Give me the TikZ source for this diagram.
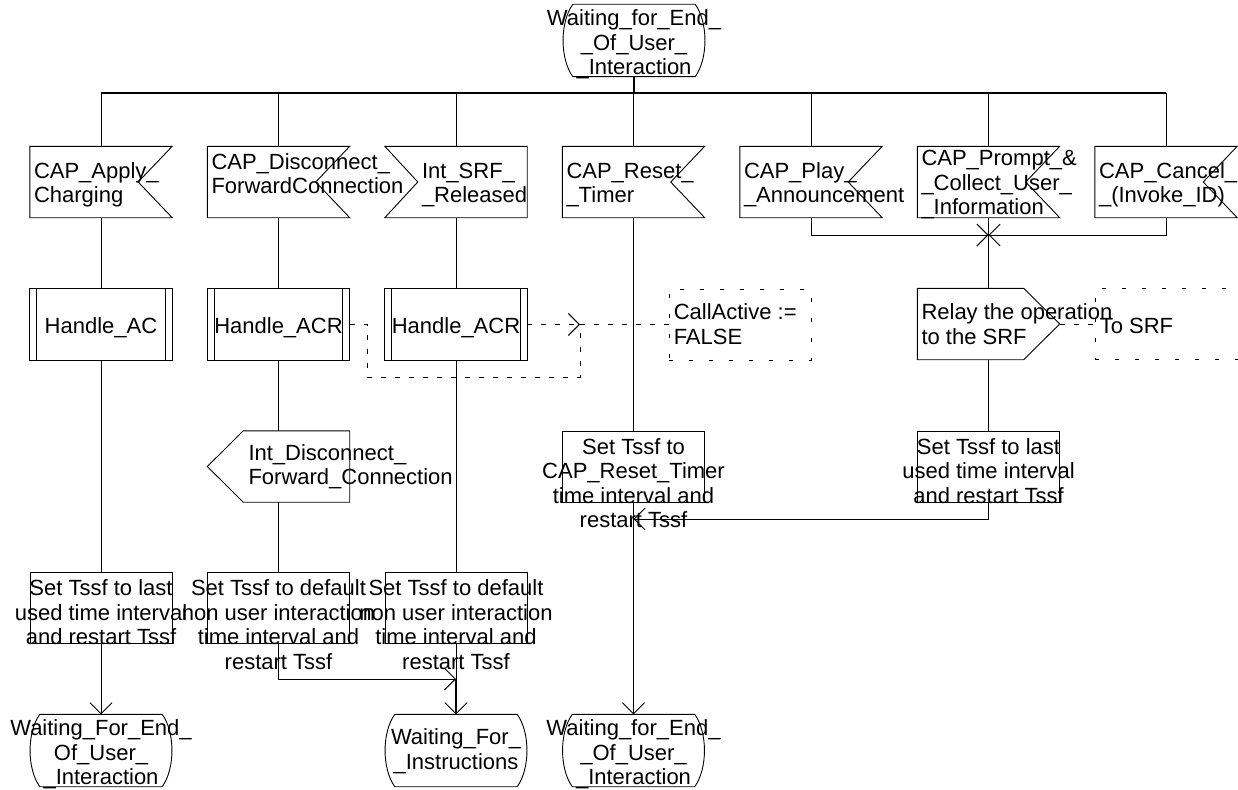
\documentclass[tikz,border=0pt]{standalone}
\usepackage{fontspec}
\setmainfont{Liberation Sans}
\usetikzlibrary{arrows.meta}
\newcommand{\txtl}[1]{\begin{tabular}{@{}l@{}}#1\end{tabular}}
\newcommand{\txtc}[1]{\begin{tabular}{@{}c@{}}#1\end{tabular}}
\newcommand{\sdlstate}[1]{\draw[sdlline] (#1.north west) -- (#1.north east)
  .. controls ([xshift=13pt,yshift=-18pt]#1.north east) and ([xshift=13pt,yshift=18pt]#1.south east) .. (#1.south east)
  -- (#1.south west)
  .. controls ([xshift=-13pt,yshift=18pt]#1.south west) and ([xshift=-13pt,yshift=-18pt]#1.north west) .. (#1.north west);}
\newcommand{\sdlinput}[1]{\draw[sdlline] (#1.north west) -- (#1.north east) -- ([xshift=-34pt]#1.east) -- (#1.south east) -- (#1.south west) -- cycle;}
\newcommand{\sdlinputl}[1]{\draw[sdlline] (#1.north west) -- (#1.north east) -- (#1.south east) -- (#1.south west) -- ([xshift=33pt]#1.west) -- cycle;}
\newcommand{\sdloutr}[1]{\draw[sdlline] (#1.north west) -- ([xshift=-36pt]#1.north east) -- (#1.east) -- ([xshift=-36pt]#1.south east) -- (#1.south west) -- cycle;}
\newcommand{\sdloutl}[1]{\draw[sdlline] ([xshift=36pt]#1.north west) -- (#1.north east) -- (#1.south east) -- ([xshift=36pt]#1.south west) -- (#1.west) -- cycle;}
\newcommand{\sdlproc}[1]{\draw[sdlline] (#1.north west) rectangle (#1.south east);
  \draw[sdlline] ([xshift=7pt]#1.north west) -- ([xshift=7pt]#1.south west)
    ([xshift=-7pt]#1.north east) -- ([xshift=-7pt]#1.south east);}

\begin{document}
\begin{tikzpicture}[x=1pt, y=-1pt,
    sdlline/.style={line width=0.9pt},
    flow/.style={line width=0.9pt},
    busline/.style={line width=1.7pt},
    flowarrow/.style={-{Straight Barb[length=11pt,width=22pt]}},
    notedash/.style={line width=0.9pt, dash pattern=on 5pt off 9pt},
    sdlbox/.style={minimum width=142pt, minimum height=71pt, inner sep=0pt},
    sdltask/.style={sdlbox, draw, line width=0.9pt},
    sdlnote/.style={sdlbox, draw, line width=0.9pt, dash pattern=on 4pt off 16pt},
    statebox/.style={minimum width=122pt, minimum height=72pt, inner sep=0pt},
    sdltext/.style={inner sep=0pt, font=\fontsize{22}{24.5}\selectfont}]
  \useasboundingbox (0,0) rectangle (1238,789);

  \node[statebox] (top) at (634,40.5) {};
  \node[sdlbox] (in1) at (101,182) {};
  \node[sdlbox] (in2) at (278.5,182) {};
  \node[sdlbox] (in3) at (456,182) {};
  \node[sdlbox] (in4) at (633.5,182) {};
  \node[sdlbox] (in5) at (811,182) {};
  \node[sdlbox] (in6) at (988.5,182) {};
  \node[sdlbox] (in7) at (1166,182) {};
  \node[sdlbox] (h1) at (101,324.5) {};
  \node[sdlbox] (h2) at (278.5,324.5) {};
  \node[sdlbox] (h3) at (456,324.5) {};
  \node[sdlnote] (ca) at (740,324.5) {};
  \node[sdlbox] (relay) at (988.5,324) {};
  \node[sdlnote, minimum width=150pt] (tosrf) at (1170,324) {};
  \node[sdlbox] (od) at (278.5,466.5) {};
  \node[sdltask] (s4) at (633.5,466.5) {};
  \node[sdltask] (s6) at (988.5,466.5) {};
  \node[sdltask] (s1) at (101,608) {};
  \node[sdltask] (s2) at (278.5,608) {};
  \node[sdltask] (s3) at (456,608) {};
  \node[statebox] (w1) at (101,750.5) {};
  \node[statebox] (wfi) at (456,750.5) {};
  \node[statebox] (w4) at (633.5,750.5) {};

  \sdlstate{top}
  \sdlstate{w1}
  \sdlstate{wfi}
  \sdlstate{w4}
  \foreach \n in {in1,in2,in4,in5,in6,in7} {\sdlinput{\n}}
  \sdlinputl{in3}
  \foreach \n in {h1,h2,h3} {\sdlproc{\n}}
  \sdloutr{relay}
  \sdloutl{od}

  \node[sdltext, anchor=north] (topt) at ([yshift=-4pt]top.north) {\txtc{Waiting\_for\_End\_\\\_Of\_User\_\\\_Interaction}};
  \node[sdltext, anchor=west] (in1t) at ([xshift=4pt,yshift=-3.5pt]in1.west) {\txtl{CAP\_Apply\_\\Charging}};
  \node[sdltext, anchor=west] (in2t) at ([xshift=4pt,yshift=5.5pt]in2.west) {\txtl{CAP\_Disconnect\_\\ForwardConnection}};
  \node[sdltext, anchor=west] (in3t) at ([xshift=37pt,yshift=-3.5pt]in3.west) {\txtl{Int\_SRF\_\\\_Released}};
  \node[sdltext, anchor=west] (in4t) at ([xshift=4pt,yshift=-3.5pt]in4.west) {\txtl{CAP\_Reset\_\\\_Timer}};
  \node[sdltext, anchor=west] (in5t) at ([xshift=4pt,yshift=-3.5pt]in5.west) {\txtl{CAP\_Play\_\\\_Announcement}};
  \node[sdltext, anchor=north west] (in6t) at ([xshift=4pt,yshift=-2pt]in6.north west) {\txtl{CAP\_Prompt\_\&\\\_Collect\_User\_\\\_Information}};
  \node[sdltext, anchor=west] (in7t) at ([xshift=4pt,yshift=-3.5pt]in7.west) {\txtl{CAP\_Cancel\_\\\_(Invoke\_ID)}};
  \node[sdltext] (h1t) at ([yshift=-3.5pt]h1.center) {Handle\_AC};
  \node[sdltext] (h2t) at ([yshift=-3.5pt]h2.center) {Handle\_ACR};
  \node[sdltext] (h3t) at ([yshift=-3.5pt]h3.center) {Handle\_ACR};
  \node[sdltext, anchor=west] (cat) at ([xshift=5pt,yshift=-2.5pt]ca.west) {\txtl{CallActive :=\\FALSE}};
  \node[sdltext, anchor=west] (relayt) at ([xshift=4pt,yshift=-3pt]relay.west) {\txtl{Relay the operation\\to the SRF}};
  \node[sdltext, anchor=west] (tosrft) at ([xshift=5pt,yshift=-1.5pt]tosrf.west) {To SRF};
  \node[sdltext, anchor=west] (odt) at ([xshift=41pt,yshift=-1pt]od.west) {\txtl{Int\_Disconnect\_\\Forward\_Connection}};
  \node[sdltext, anchor=north] (s4t) at ([yshift=-6.5pt]s4.north) {\txtc{Set Tssf to\\CAP\_Reset\_Timer\\time interval and\\restart Tssf}};
  \node[sdltext, anchor=north] (s6t) at ([yshift=-6.5pt]s6.north) {\txtc{Set Tssf to last\\used time interval\\and restart Tssf}};
  \node[sdltext, anchor=north] (s1t) at ([yshift=-6.5pt]s1.north) {\txtc{Set Tssf to last\\used time interval\\and restart Tssf}};
  \node[sdltext, anchor=north] (s2t) at ([yshift=-6.5pt]s2.north) {\txtc{Set Tssf to default\\non user interaction\\time interval and\\restart Tssf}};
  \node[sdltext, anchor=north] (s3t) at ([yshift=-6.5pt]s3.north) {\txtc{Set Tssf to default\\non user interaction\\time interval and\\restart Tssf}};
  \node[sdltext, anchor=north] (w1t) at ([yshift=-4pt]w1.north) {\txtc{Waiting\_For\_End\_\\Of\_User\_\\\_Interaction}};
  \node[sdltext] (wfit) at ([yshift=-1.5pt]wfi.center) {\txtc{Waiting\_For\_\\\_Instructions}};
  \node[sdltext, anchor=north] (w4t) at ([yshift=-4pt]w4.north) {\txtc{Waiting\_for\_End\_\\\_Of\_User\_\\\_Interaction}};

  \coordinate (bus) at (634,93);
  \coordinate (jx) at (988.5,235);
  \coordinate (j2) at (456,679);
  \coordinate (j4) at (633.5,519);
  \coordinate (jn) at (580,324.5);
  \coordinate (lp) at (367,377);

  \foreach \n in {in1,in2,in3,in4,in5,in6,in7} {\draw[flow] (bus -| \n.north) -- (\n.north);}
  \draw[busline] (top.south) -- (bus);
  \draw[busline] (bus -| in1.north) -- (bus -| in7.north);

  \draw[flow] (in1.south) -- (h1.north);
  \draw[flow] (h1.south) -- (s1.north);
  \draw[flow, flowarrow] (s1.south) -- (w1.north);
  \draw[flow] (in2.south) -- (h2.north);
  \draw[flow] (h2.south) -- (od.north);
  \draw[flow] (od.south) -- (s2.north);
  \draw[flow, flowarrow] (s2.south) |- (j2);
  \draw[busline] (j2) -- (wfi.north);
  \draw[flow] (in3.south) -- (h3.north);
  \draw[flow] (h3.south) -- (s3.north);
  \draw[flow, flowarrow] (s3.south) -- (wfi.north);
  \draw[flow] (in4.south) -- (s4.north);
  \draw[flow, flowarrow] (s4.south) -- (w4.north);
  \draw[flow, flowarrow] (in5.south) |- (jx);
  \draw[flow, flowarrow] (in7.south) |- (jx);
  \draw[flow] (in6.south) -- (jx);
  \draw[flow] (jx) -- (relay.north);
  \draw[flow] (relay.south) -- (s6.north);
  \draw[flow, flowarrow] (s6.south) |- (j4);

  \draw[notedash] (h2.east) -| (lp) -| (jn);
  \draw[notedash, flowarrow] (h3.east) -- (jn);
  \draw[notedash] (jn) -- (ca.west);
  \draw[notedash] (relay.east) -- (tosrf.west);
\end{tikzpicture}
\end{document}
